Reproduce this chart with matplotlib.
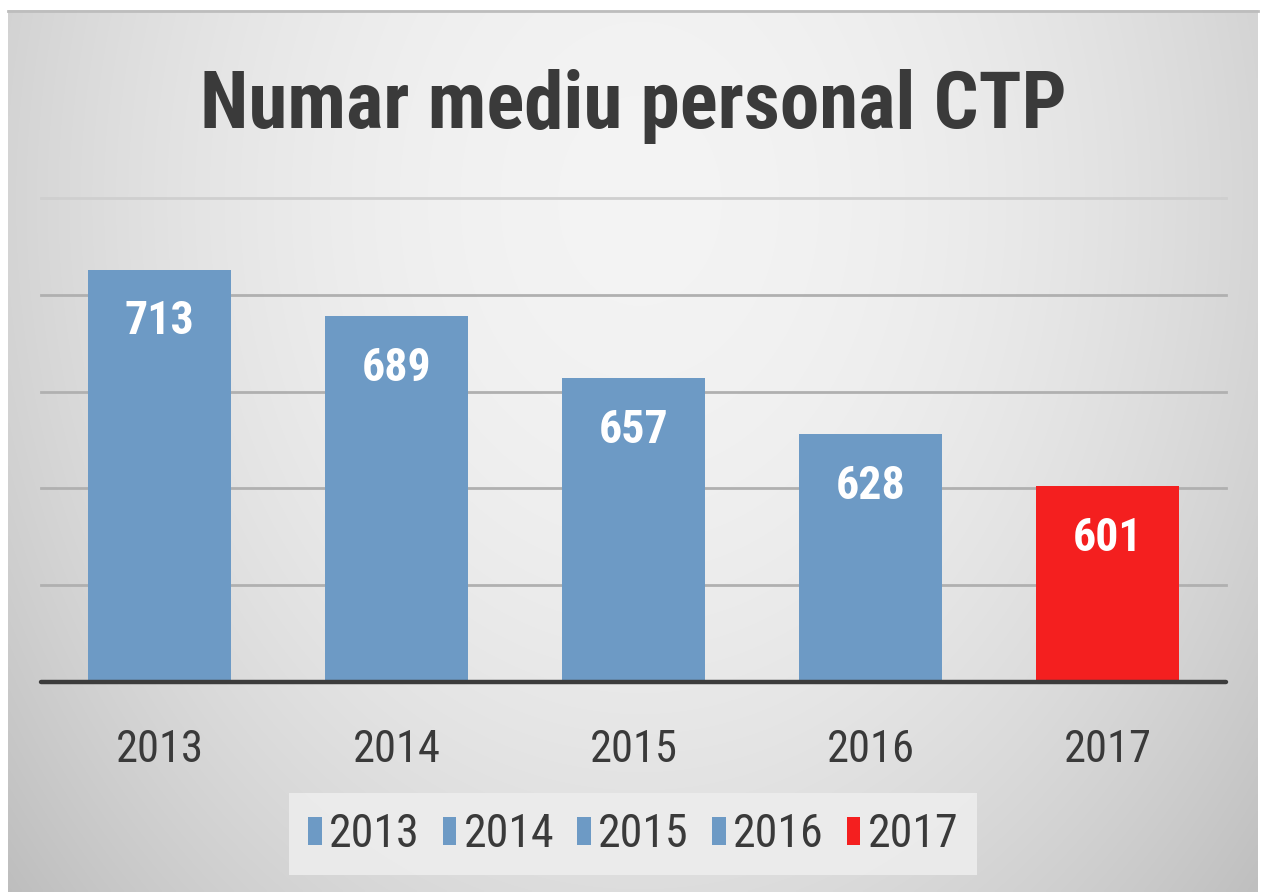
import numpy as np
import matplotlib
matplotlib.use("Agg")
import matplotlib.pyplot as plt
from matplotlib.patches import Patch

# ---- data ----
years = ["2013", "2014", "2015", "2016", "2017"]
values = [713, 689, 657, 628, 601]
colors = ["#6d9ac5", "#6d9ac5", "#6d9ac5", "#6d9ac5", "#f41f1f"]
title = "Numar mediu personal CTP"

FONT = "Roboto Condensed"
W, H = 1263, 892
fig = plt.figure(figsize=(W / 100, H / 100), dpi=100)
fig.patch.set_facecolor("white")

# ---- gradient panel background ----
bg = fig.add_axes([0, 0, 1, 1], zorder=-10)
bg.axis("off")
px0, px1, py0, py1 = 8, 1258, 10, 892
xx, yy = np.meshgrid(np.linspace(px0, px1, 400), np.linspace(py0, py1, 300))
cx, cy = 640, 200
r = np.sqrt(((xx - cx) / 700.0) ** 2 + ((yy - cy) / 900.0) ** 2)
g = np.clip(0.955 - 0.15 * r ** 2.0, 0, 1)
img = np.dstack([g, g, g])
bg.imshow(img, extent=(px0, px1, py1, py0), aspect="auto", interpolation="bilinear")
bg.plot([px0, px1], [py0 + 1, py0 + 1], color="#bdbdbd", lw=2)
bg.set_xlim(0, W)
bg.set_ylim(H, 0)

# ---- main axes ----
L, R, B, T = 41, 1226, 682, 198
ax = fig.add_axes([L / W, 1 - B / H, (R - L) / W, (B - T) / H])
ax.patch.set_alpha(0)
x = np.arange(len(years))
ax.bar(x, [v - 500 for v in values], bottom=500, width=0.6, color=colors,
       edgecolor="none", zorder=3)
ax.set_xlim(-0.5, len(years) - 0.5)
ax.set_ylim(500, 750)
ax.set_yticks([550, 600, 650, 700, 750])
ax.yaxis.grid(True, color="#b0b0b0", lw=2)
ax.set_axisbelow(True)
for gl in ax.get_ygridlines():
    gl.set_clip_on(False)
ax.get_ygridlines()[-1].set_color("#cfcfcf")
for s in ["top", "right", "left"]:
    ax.spines[s].set_visible(False)
ax.spines["bottom"].set_color("#3c3c3c")
ax.spines["bottom"].set_linewidth(3.2)
ax.spines["bottom"].set_capstyle("round")
ax.spines["bottom"].set_zorder(5)
ax.tick_params(axis="y", left=False, labelleft=False)
ax.tick_params(axis="x", bottom=False, pad=30)
ax.set_xticks(x)
ax.set_xticklabels(years, fontfamily=FONT, fontsize=32, color="#3a3a3a")

for xi, v in zip(x, values):
    ax.annotate(str(v), xy=(xi, v), xytext=(0, -46.5), textcoords="offset points",
                ha="center", va="baseline", fontfamily=FONT, fontweight="bold",
                fontsize=33, color="white", zorder=6)

# ---- title ----
fig.text(633 / W, 1 - 128 / H, title, ha="center", va="baseline",
         fontfamily=FONT, fontweight="bold", fontsize=57, color="#3a3a3a")

# ---- legend ----
handles = [Patch(facecolor=c, edgecolor="none") for c in colors]
leg = fig.legend(handles, years, loc="center", bbox_to_anchor=(633 / W, 1 - 834 / H),
                 ncol=5, frameon=True, fancybox=False, prop={"family": FONT, "size": 33},
                 handlelength=0.3, handleheight=0.55, handletextpad=0.16,
                 columnspacing=0.5, borderpad=0.42, borderaxespad=0)
leg.get_frame().set_facecolor("#ededed")
leg.get_frame().set_edgecolor("none")
leg.get_frame().set_alpha(0.9)
for t in leg.get_texts():
    t.set_color("#3a3a3a")

fig.savefig("out.png", dpi=100)
